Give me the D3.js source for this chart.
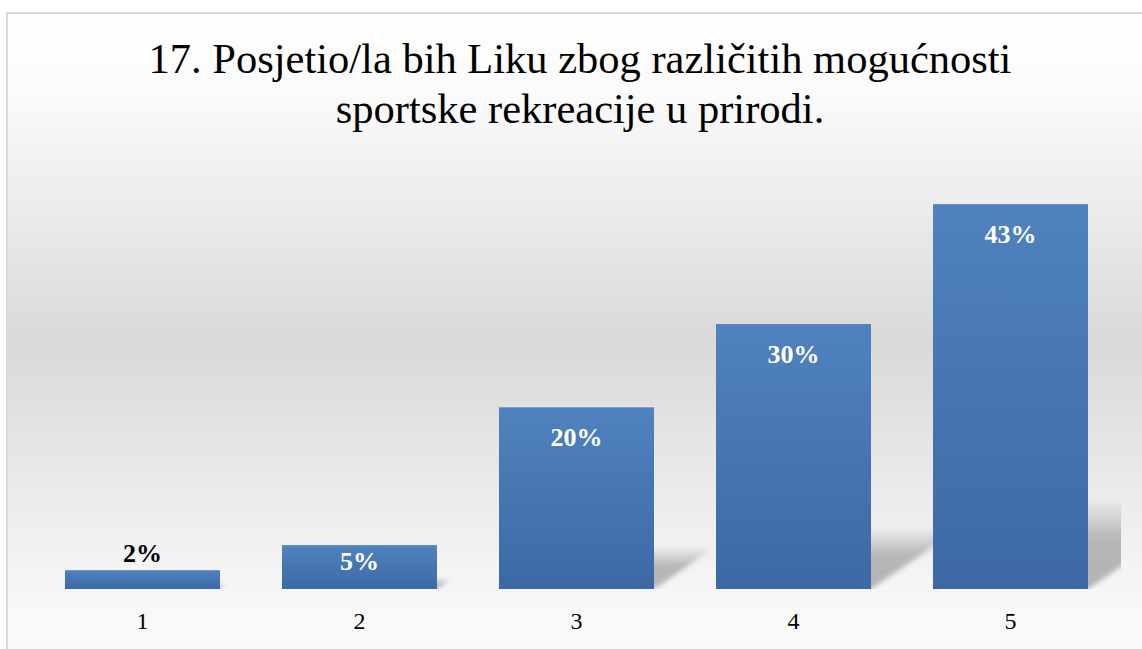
<!DOCTYPE html>
<html>
<head>
<meta charset="utf-8">
<script src="https://cdn.jsdelivr.net/npm/d3@7"></script>
<style>
  html, body { margin: 0; padding: 0; background: #ffffff; }
  svg { display: block; }
</style>
</head>
<body>
<svg id="chart" width="1142" height="649"></svg>
<script>
// ---- data ----
const titleLines = ["17. Posjetio/la bih Liku zbog različitih mogućnosti", "sportske rekreacije u prirodi."];
const categories = ["1", "2", "3", "4", "5"];
const values = [0.021, 0.049, 0.203, 0.296, 0.430];

// ---- layout ----
const W = 1142, H = 649;
const svg = d3.select("#chart");
const defs = svg.append("defs");
const serif = "'Liberation Serif', 'Times New Roman', Times, serif";

// chart background gradient
const bg = defs.append("linearGradient").attr("id", "bgGrad")
  .attr("x1", 0).attr("y1", 0).attr("x2", 0).attr("y2", 1);
[[0, "#ffffff"], [0.12, "#fbfbfb"], [0.5, "#d9d9d9"], [0.78, "#efefef"], [0.9, "#f8f8f8"], [1, "#fbfbfb"]]
  .forEach(([o, c]) => bg.append("stop").attr("offset", o).attr("stop-color", c));

// bar gradient
const bg2 = defs.append("linearGradient").attr("id", "barGrad")
  .attr("x1", 0).attr("y1", 0).attr("x2", 0).attr("y2", 1);
bg2.append("stop").attr("offset", 0).attr("stop-color", "#4f82bf");
bg2.append("stop").attr("offset", 1).attr("stop-color", "#3c69a3");

// shadow gradient
const sg = defs.append("linearGradient").attr("id", "shGrad")
  .attr("x1", 0).attr("y1", 0).attr("x2", 0).attr("y2", 1);
sg.append("stop").attr("offset", 0).attr("stop-color", "#8f8f8f").attr("stop-opacity", 0);
sg.append("stop").attr("offset", 0.45).attr("stop-color", "#8f8f8f").attr("stop-opacity", 0.6);
sg.append("stop").attr("offset", 1).attr("stop-color", "#8f8f8f").attr("stop-opacity", 0.65);

defs.append("filter").attr("id", "blur").attr("x", "-20%").attr("y", "-20%").attr("width", "140%").attr("height", "140%")
  .append("feGaussianBlur").attr("stdDeviation", 2.5);

defs.append("clipPath").attr("id", "plotClip")
  .append("rect").attr("x", 20).attr("y", 100).attr("width", 1101).attr("height", 489);

// chart area with border
svg.append("rect")
  .attr("x", 7).attr("y", 13).attr("width", 1160).attr("height", 660)
  .attr("fill", "url(#bgGrad)")
  .attr("stroke", "#d9d9d9").attr("stroke-width", 2);

// title
const title = svg.append("text")
  .attr("text-anchor", "middle")
  .attr("font-family", serif)
  .attr("font-size", 42.5)
  .attr("fill", "#000");
titleLines.forEach((t, i) => {
  title.append("tspan").attr("x", 580).attr("y", 73 + i * 50).text(t);
});

// scales
const x = d3.scaleBand().domain(categories).range([34, 1119])
  .paddingInner(62 / 217).paddingOuter(31 / 217);
const y = d3.scaleLinear().domain([0, 0.5]).range([589, 141.5]);
const data = categories.map((c, i) => ({ c, v: values[i] }));

// shadows
const shadowG = svg.append("g").attr("clip-path", "url(#plotClip)")
  .append("g").attr("filter", "url(#blur)");
shadowG.selectAll("polygon").data(data).join("polygon")
  .attr("points", d => {
    const x0 = x(d.c), x1 = x(d.c) + x.bandwidth();
    const b = y(0), h = y(0) - y(d.v);
    const sh = 0.235 * h, dx = sh / 0.68;
    return [[x0, b], [x1, b], [x1 + dx, b - sh], [x0 + dx, b - sh]].map(p => p.join(",")).join(" ");
  })
  .attr("fill", "url(#shGrad)");

// bars
svg.append("g").selectAll("rect").data(data).join("rect")
  .attr("x", d => x(d.c))
  .attr("y", d => y(d.v))
  .attr("width", x.bandwidth())
  .attr("height", d => y(0) - y(d.v))
  .attr("fill", "url(#barGrad)");

// value labels
const fmt = d3.format(".0%");
svg.append("g").selectAll("text").data(data).join("text")
  .attr("x", d => x(d.c) + x.bandwidth() / 2)
  .attr("y", d => {
    const h = y(0) - y(d.v);
    if (h < 30) return y(d.v) - 8;
    return Math.min(y(d.v) + 38.5, y(0) - 19);
  })
  .attr("text-anchor", "middle")
  .attr("font-family", serif)
  .attr("font-weight", "bold")
  .attr("font-size", 26)
  .attr("fill", d => (y(0) - y(d.v)) < 30 ? "#000" : "#fff")
  .text(d => fmt(d.v));

// x axis labels
const xAxis = d3.axisBottom(x).tickSize(0).tickPadding(0);
const ax = svg.append("g").attr("transform", "translate(0,589)").call(xAxis);
ax.select(".domain").remove();
ax.selectAll("text")
  .attr("y", 40).attr("dy", null)
  .attr("font-family", serif)
  .attr("font-size", 24)
  .attr("fill", "#000");
</script>
</body>
</html>
